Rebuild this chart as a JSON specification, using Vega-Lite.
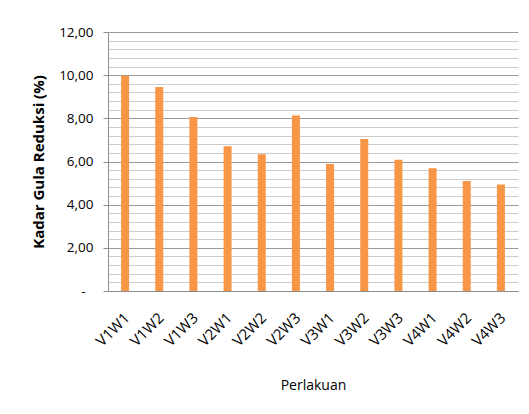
{
  "$schema": "https://vega.github.io/schema/vega-lite/v6.json",
  "width": 410,
  "height": 259,
  "autosize": {"type": "none"},
  "padding": {"left": 108, "top": 32, "right": 11, "bottom": 123},
  "background": "white",
  "config": {
    "view": {"stroke": null},
    "font": "Open Sans"
  },
  "data": {
    "values": [
      {"perlakuan": "V1W1", "kadar": 9.97},
      {"perlakuan": "V1W2", "kadar": 9.45},
      {"perlakuan": "V1W3", "kadar": 8.06},
      {"perlakuan": "V2W1", "kadar": 6.71},
      {"perlakuan": "V2W2", "kadar": 6.34},
      {"perlakuan": "V2W3", "kadar": 8.13},
      {"perlakuan": "V3W1", "kadar": 5.88},
      {"perlakuan": "V3W2", "kadar": 7.04},
      {"perlakuan": "V3W3", "kadar": 6.08},
      {"perlakuan": "V4W1", "kadar": 5.69},
      {"perlakuan": "V4W2", "kadar": 5.10},
      {"perlakuan": "V4W3", "kadar": 4.93}
    ]
  },
  "mark": {"type": "bar", "width": 8, "color": "#F79646"},
  "encoding": {
    "x": {
      "field": "perlakuan",
      "type": "nominal",
      "sort": null,
      "scale": {"paddingInner": 0, "paddingOuter": 0},
      "axis": {
        "title": "Perlakuan",
        "titleFont": "Open Sans",
        "titleFontSize": 14,
        "titleFontWeight": "normal",
        "titleColor": "#000",
        "titleY": 94,
        "titleBaseline": "middle",
        "labelAngle": -45,
        "labelAlign": "right",
        "labelBaseline": "middle",
        "labelPadding": 24,
        "labelFontSize": 15,
        "labelColor": "#000",
        "labelOffset": 2,
        "ticks": false,
        "domainColor": "#8c8c8c",
        "domainWidth": 1
      }
    },
    "y": {
      "field": "kadar",
      "type": "quantitative",
      "scale": {"domain": [0, 12], "nice": false},
      "axis": {
        "title": "Kadar Gula Reduksi (%)",
        "titleFont": "Open Sans",
        "titleFontSize": 15,
        "titleFontWeight": "bold",
        "titleColor": "#000",
        "titlePadding": 12,
        "values": [0, 0.4, 0.8, 1.2, 1.6, 2, 2.4, 2.8, 3.2, 3.6, 4, 4.4, 4.8, 5.2, 5.6, 6, 6.4, 6.8, 7.2, 7.6, 8, 8.4, 8.8, 9.2, 9.6, 10, 10.4, 10.8, 11.2, 11.6, 12],
        "labelExpr": "abs(datum.value - round(datum.value / 2) * 2) < 0.01 ? (datum.value == 0 ? '-' : replace(format(datum.value, '.2f'), '.', ',')) : ''",
        "labelFontSize": 13.5,
        "labelColor": "#000",
        "labelPadding": {"condition": {"test": "datum.value == 0", "value": 18}, "value": 10},
        "grid": true,
        "gridColor": {"condition": {"test": "abs(datum.value - round(datum.value / 2) * 2) < 0.01", "value": "#9a9a9a"}, "value": "#cccccc"},
        "gridWidth": 1,
        "tickSize": 5,
        "tickColor": "#8c8c8c",
        "tickOpacity": {"condition": {"test": "abs(datum.value - round(datum.value / 2) * 2) < 0.01", "value": 1}, "value": 0},
        "domainColor": "#8c8c8c"
      }
    }
  }
}
